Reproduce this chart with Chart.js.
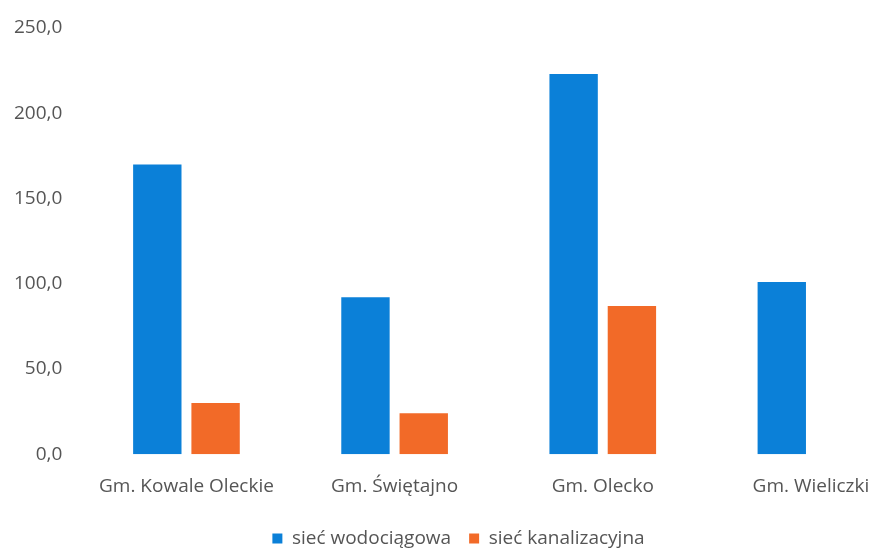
<!DOCTYPE html>
<html>
<head>
<meta charset="utf-8">
<script src="https://cdn.jsdelivr.net/npm/chart.js@4"></script>
<style>
  html, body { margin: 0; padding: 0; background: #fff; overflow: hidden; }
  #wrap { width: 915px; height: 548px; }
</style>
</head>
<body>
<div id="wrap"><canvas id="myChart"></canvas></div>
<script>
// gminy
const categories = ['Gm. Kowale Oleckie', 'Gm. Świętajno', 'Gm. Olecko', 'Gm. Wieliczki'];
const wodociagowa = [170, 92, 223, 101];
const kanalizacyjna = [30, 24, 87, null];
const seriesNames = ['sieć wodociągowa', 'sieć kanalizacyjna'];
const yTicks = [0, 50, 100, 150, 200, 250];

const fontFam = "'Open Sans', sans-serif";

const ctx = document.getElementById('myChart').getContext('2d');
const myChart = new Chart(ctx, {
  type: 'bar',
  data: {
    labels: categories,
    datasets: [{
      label: seriesNames[0],
      data: wodociagowa,
      backgroundColor: '#0B80D8',
      barPercentage: 0.83,
      categoryPercentage: 0.56
    }, {
      label: seriesNames[1],
      data: kanalizacyjna,
      backgroundColor: '#F26A28',
      barPercentage: 0.83,
      categoryPercentage: 0.56
    }]
  },
  options: {
    responsive: true,
    maintainAspectRatio: false,
    animation: false,
    layout: { padding: { top: 28, left: 2, right: 0, bottom: -10 } },
    plugins: {
      tooltip: { enabled: false },
      legend: {
        position: 'bottom',
        labels: {
          boxWidth: 10,
          boxHeight: 10,
          padding: 18,
          color: '#555',
          font: { family: fontFam, size: 19 }
        }
      }
    },
    scales: {
      x: {
        grid: { display: false },
        border: { display: false },
        ticks: {
          color: '#555',
          padding: 13,
          maxRotation: 0,
          font: { family: fontFam, size: 19 }
        }
      },
      y: {
        min: 0,
        max: 250,
        afterBuildTicks: (axis) => { axis.ticks = yTicks.map(v => ({ value: v })); },
        grid: { display: false },
        border: { display: false },
        ticks: {
          color: '#555',
          padding: 12,
          font: { family: fontFam, size: 19 },
          callback: (v) => Number(v).toFixed(1).replace('.', ',')
        }
      }
    }
  }
});
</script>
</body>
</html>
